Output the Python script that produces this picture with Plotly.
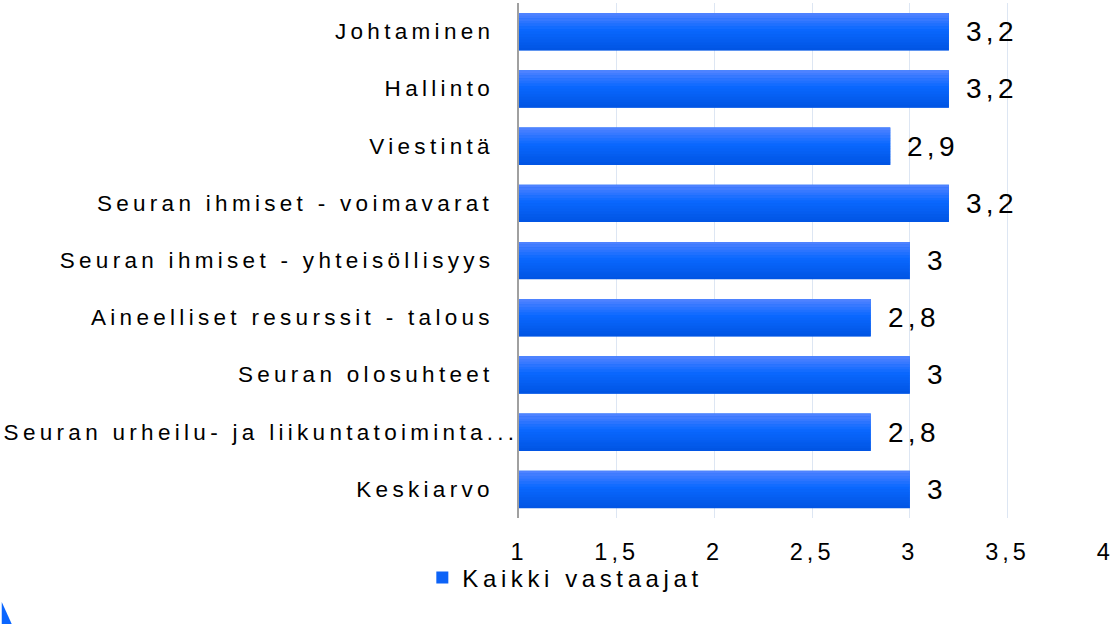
import plotly.graph_objects as go

categories = [
    "Johtaminen",
    "Hallinto",
    "Viestintä",
    "Seuran ihmiset - voimavarat",
    "Seuran ihmiset - yhteisöllisyys",
    "Aineelliset resurssit - talous",
    "Seuran olosuhteet",
    "Seuran urheilu- ja liikuntatoiminta...",
    "Keskiarvo",
]
values = [3.2, 3.2, 2.9, 3.2, 3.0, 2.8, 3.0, 2.8, 3.0]
series_name = "Kaikki vastaajat"
x_ticks = [1, 1.5, 2, 2.5, 3, 3.5, 4]

W, H = 1115, 624
ML, MR, MT, MB = 519, 7, 3, 106
PW, PH = W - ML - MR, H - MT - MB

def fmt(v):
    return f"{v:g}".replace(".", ",")

FONT = "Liberation Sans, Arial, sans-serif"
BAR_W = 0.65

# vertical gradient stops (top -> bottom) for the bars
stops = [(0.0, (84, 132, 255)), (0.45, (10, 104, 255)), (1.0, (0, 84, 226))]

def grad(t):
    for (t0, c0), (t1, c1) in zip(stops[:-1], stops[1:]):
        if t <= t1:
            f = (t - t0) / (t1 - t0)
            return "rgb({},{},{})".format(*[round(a + (b - a) * f) for a, b in zip(c0, c1)])
    return "rgb({},{},{})".format(*stops[-1][1])

fig = go.Figure()
fig.add_trace(go.Bar(
    y=categories,
    x=[v - 1 for v in values],
    base=1,
    orientation="h",
    name=series_name,
    width=BAR_W,
    marker=dict(color="#0d63f7", line=dict(width=0)),
    hoverinfo="skip",
))
N = 14
for i in range(N):
    fig.add_trace(go.Bar(
        y=categories,
        x=[v - 1 for v in values],
        base=1,
        orientation="h",
        showlegend=False,
        width=BAR_W / N + 0.004,
        offset=-BAR_W / 2 + i * BAR_W / N,
        marker=dict(color=grad((i + 0.5) / N), line=dict(width=0)),
        hoverinfo="skip",
    ))

# value labels
for c, v in zip(categories, values):
    fig.add_annotation(
        x=v, y=c, text=fmt(v), showarrow=False,
        xanchor="left", align="left", xshift=15,
        font=dict(family=FONT, size=28, color="#000000"),
    )

# category labels (right-aligned next to the axis)
for c in categories:
    shift = 1 if c.endswith("...") else -23
    fig.add_annotation(
        xref="paper", x=0, y=c, text=c, showarrow=False,
        xanchor="right", align="right", xshift=shift,
        font=dict(family=FONT, size=22.5, color="#000000"),
    )

def px2paper(px, py):
    return (px - ML) / PW, (H - MB - py) / PH

p1 = px2paper(0, 602)
p2 = px2paper(10, 624)
p3 = px2paper(0, 624)
fig.add_shape(
    type="path", xref="paper", yref="paper",
    path=f"M {p1[0]} {p1[1]} L {p2[0]} {p2[1]} L {p3[0]} {p3[1]} Z",
    fillcolor="#0a66ff", line=dict(width=0), layer="above",
)

lx, ly = px2paper(422, 578)

fig.update_layout(
    width=W, height=H,
    margin=dict(l=ML, r=MR, t=MT, b=MB, pad=0),
    paper_bgcolor="white", plot_bgcolor="white",
    separators=", ",
    barmode="overlay",
    showlegend=True,
    legend=dict(
        orientation="h", x=lx, y=ly, xanchor="left", yanchor="middle",
        font=dict(family=FONT, size=24, color="#000000"),
        itemwidth=30, entrywidth=300, entrywidthmode="pixels",
        bgcolor="rgba(0,0,0,0)",
    ),
    font=dict(family=FONT, color="#000000"),
    xaxis=dict(
        range=[1, 4.004], tickvals=x_ticks,
        showgrid=True, gridcolor="#dde6f3", gridwidth=1,
        zeroline=False, showline=False,
        ticks="", ticklabelstandoff=17, ticklabeloverflow="allow",
        tickfont=dict(family=FONT, size=23.5, color="#000000"),
    ),
    yaxis=dict(
        autorange="reversed", showticklabels=False,
        showgrid=False, showline=True, linecolor="#a0a0a0", linewidth=2,
        ticks="",
    ),
)

post = """
document.body.style.margin='0';
var s=document.createElement('style');
s.textContent='.xtick text{letter-spacing:4px} .annotation-text{letter-spacing:4.3px} .legendtext{letter-spacing:4.6px}';
document.head.appendChild(s);
"""

fig.write_html("out.html", post_script=post, config={"displayModeBar": False})
